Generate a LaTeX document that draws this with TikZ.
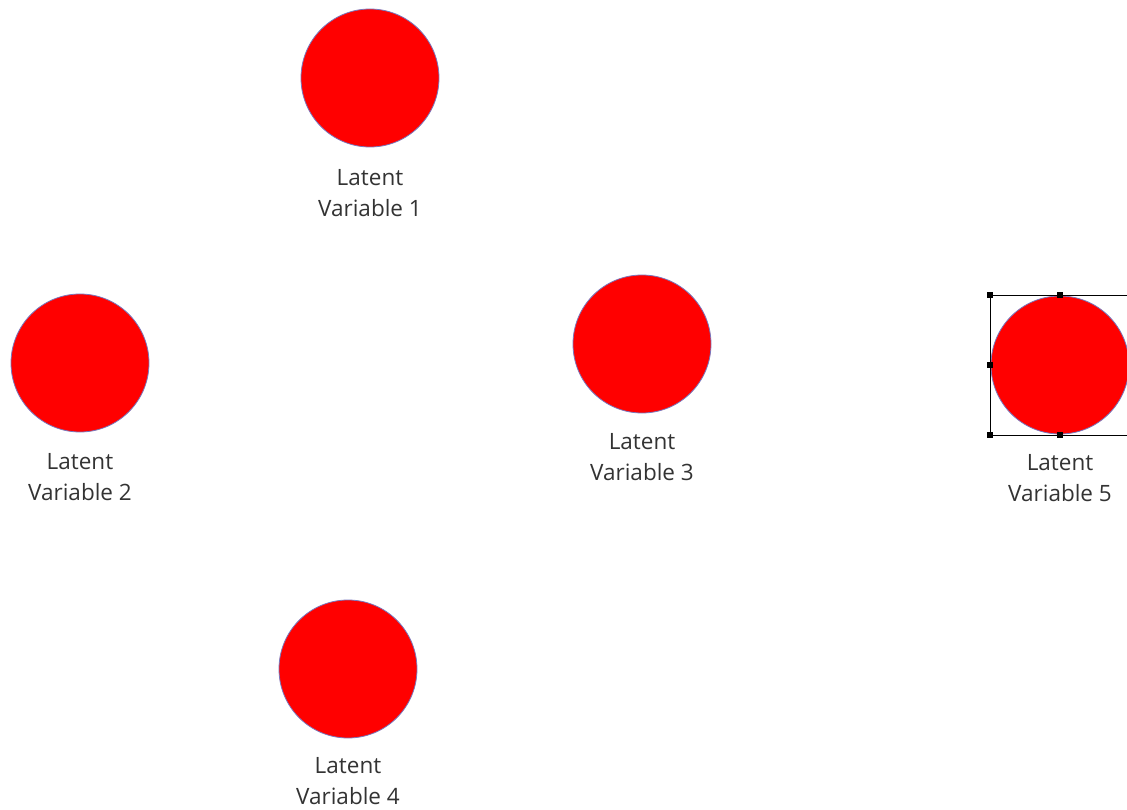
\documentclass[tikz,border=0pt]{standalone}
\usepackage{fontspec}
\setmainfont{Open Sans}
\definecolor{dotred}{RGB}{255,0,0}
\definecolor{dotedge}{RGB}{120,120,190}
\begin{document}
\begin{tikzpicture}[x=1pt,y=-1pt,
  latent/.style={circle,fill=dotred,draw=dotedge,line width=0.8pt,minimum size=138pt,inner sep=0pt},
  lab/.style={align=center,font=\fontsize{22.5}{31}\selectfont,text=black!80,inner sep=0pt,anchor=north},
  handle/.style={fill=black,minimum size=6pt,inner sep=0pt}]
\useasboundingbox (0,0) rectangle (1127,810);
\node[latent] (c1) at (370,78) {};
\node[latent] (c2) at (80,363) {};
\node[latent] (c3) at (642,344) {};
\node[latent] (c4) at (348,669) {};
\node[latent] (c5) at (1060,365) {};
\node[lab] (l1) at (370,169) {Latent\\Variable 1};
\node[lab] (l2) at (80,453) {Latent\\Variable 2};
\node[lab] (l3) at (642,433) {Latent\\Variable 3};
\node[lab] (l4) at (348,757) {Latent\\Variable 4};
\node[lab] (l5) at (1060,454) {Latent\\Variable 5};
% selection frame
\coordinate (s1) at (990,295);
\coordinate (s2) at (1135,435);
\draw[black,line width=0.8pt] (s1) rectangle (s2);
\node[handle] (h1) at (990,295) {};
\node[handle] (h2) at (1060,295) {};
\node[handle] (h3) at (990,365) {};
\node[handle] (h4) at (990,435) {};
\node[handle] (h5) at (1060,435) {};
\end{tikzpicture}
\end{document}
